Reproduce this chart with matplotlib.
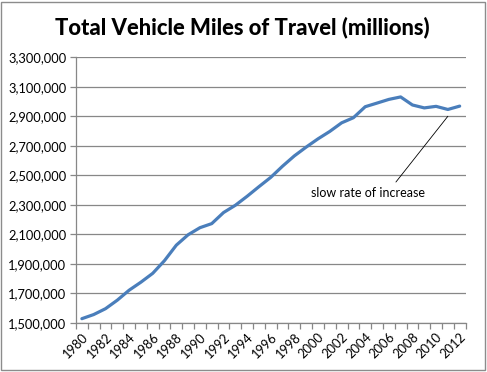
import matplotlib
matplotlib.use("Agg")
import matplotlib.pyplot as plt
from matplotlib.patches import Rectangle
from matplotlib.ticker import FuncFormatter, FixedLocator

# total vehicle miles of travel, millions
years = list(range(1980, 2013))
vmt = [1527295, 1555308, 1595010, 1652788, 1720269, 1774826, 1834872,
       1921204, 2025962, 2096487, 2144362, 2172050, 2247151, 2296378,
       2357588, 2422696, 2485848, 2561695, 2631522, 2691056, 2746925,
       2797287, 2855508, 2890221, 2964788, 2989430, 3014371, 3031124,
       2976528, 2956764, 2967266, 2946131, 2968815]
y_ticks = list(range(1500000, 3300001, 200000))
note_text = "slow rate of increase"

plt.rcParams['font.family'] = ['Lato', 'DejaVu Sans']
grey = '#878787'

fig = plt.figure(figsize=(4.87, 3.72), dpi=100)
ax = fig.add_axes([0.156, 0.1325, 0.8, 0.7135])

x = list(range(len(years)))
ax.plot(x, vmt, color='#4a7ebb', linewidth=2.3, solid_capstyle='round')

ax.set_xlim(-0.5, len(years) - 0.5)
ax.set_ylim(y_ticks[0], y_ticks[-1])

# y axis
ax.set_yticks(y_ticks)
ax.yaxis.set_major_formatter(FuncFormatter(lambda v, p: f"{int(v):,}"))
ax.grid(axis='y', color=grey, linewidth=0.9)
ax.set_axisbelow(True)

# x axis: tick marks between categories, labels every other year
ax.xaxis.set_minor_locator(FixedLocator([i - 0.5 for i in range(len(years) + 1)]))
ax.set_xticks(x[::2])
ax.set_xticklabels([str(y) for y in years[::2]], rotation=45, ha='right',
                   rotation_mode='anchor')
ax.tick_params(axis='x', which='major', length=0, pad=6, labelsize=9.3)
ax.tick_params(axis='x', which='minor', length=4, color=grey, width=0.9)
ax.tick_params(axis='y', length=4, color=grey, width=0.9, labelsize=9.3, pad=3)

for s in ['top', 'right']:
    ax.spines[s].set_visible(False)
for s in ['left', 'bottom']:
    ax.spines[s].set_color(grey)
    ax.spines[s].set_linewidth(0.9)

# annotation
ax.annotate('', xy=(31, 2900000), xytext=(26.6, 2454000),
            arrowprops=dict(arrowstyle='-', color='black', linewidth=0.6,
                            shrinkA=0, shrinkB=0))
ax.text(24.2, 2380000, note_text, ha='center', va='center', fontsize=9)

fig.suptitle("Total Vehicle Miles of Travel (millions)", x=0.497, y=0.927,
             fontsize=15.8, fontweight='black', va='center')

# chart border
fig.patches.append(Rectangle((0.003, 0.005), 0.992, 0.99, transform=fig.transFigure,
                             fill=False, edgecolor='#8c8c8c', linewidth=1))

fig.savefig('out.png', dpi=100)
